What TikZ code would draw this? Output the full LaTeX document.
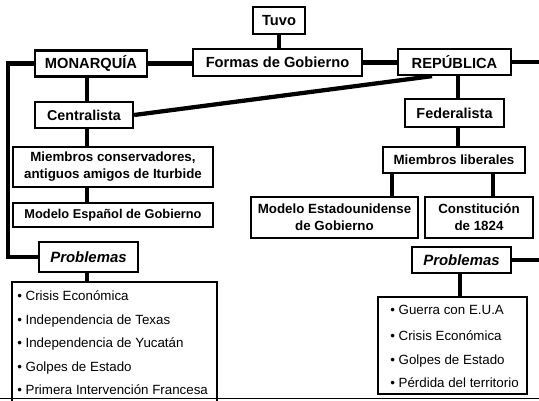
\documentclass[tikz,border=0pt]{standalone}
\usepackage{fontspec}
\setmainfont{Liberation Sans}
\begin{document}
\begin{tikzpicture}[x=0.75pt,y=-0.75pt,
  box/.style={draw, line width=1.7pt, fill=white, inner sep=0pt, align=center},
  big/.style={font=\fontsize{11}{13}\selectfont\bfseries},
  mid/.style={font=\fontsize{10}{12.8}\selectfont\bfseries},
  prob/.style={font=\fontsize{11.2}{13}\selectfont\bfseries\itshape},
  item/.style={anchor=base west, inner sep=0pt, font=\fontsize{10}{12}\selectfont},
  conn/.style={line width=3.2pt, line join=miter}]
\clip (0,0) rectangle (539,400);
% boxes
\node[box,big,minimum width=39pt,minimum height=20.25pt] (tuvo) at (279,20.5) {Tuvo};
\node[box,big,minimum width=126.75pt,minimum height=20.25pt] (formas) at (277.5,62.5) {Formas de Gobierno};
\node[box,big,minimum width=84pt,minimum height=19.5pt] (mon) at (91,63.5) {MONARQUÍA};
\node[box,big,minimum width=84.75pt,minimum height=19.5pt] (rep) at (454.5,62) {REPÚBLICA};
\node[box,big,font=\fontsize{10.7}{13}\selectfont\bfseries,minimum width=73.5pt,minimum height=19.5pt] (cent) at (84,115) {Centralista};
\node[box,mid,minimum width=150pt,minimum height=30pt] (mcons) at (113,167) {Miembros conservadores,\\antiguos amigos de Iturbide};
\node[box,font=\fontsize{9.6}{12}\selectfont\bfseries,minimum width=150pt,minimum height=18pt] (mesp) at (113,215) {Modelo Español de Gobierno};
\node[box,prob,minimum width=74.25pt,minimum height=22.5pt] (probL) at (88.5,257) {Problemas};
\node[box,minimum width=153.75pt,minimum height=103.5pt] (listL) at (114.5,351) {};
\node[box,font=\fontsize{10.8}{13}\selectfont\bfseries,minimum width=74.25pt,minimum height=21pt] (fed) at (454.5,113) {Federalista};
\node[box,mid,minimum width=106.5pt,minimum height=19.5pt] (mlib) at (454,160) {Miembros liberales};
\node[box,mid,minimum width=125.25pt,minimum height=30.75pt] (mest) at (334.5,217.5) {Modelo Estadounidense\\de Gobierno};
\node[box,mid,minimum width=81pt,minimum height=30.75pt] (const) at (479,217.5) {Constitución\\de 1824};
\node[box,prob,minimum width=74.25pt,minimum height=19.5pt] (probR) at (461.5,260) {Problemas};
\node[box,minimum width=111.75pt,minimum height=72.75pt] (listR) at (452.5,345.5) {};
% list items
\node[item] (l1) at (17,300.5) {• Crisis Económica};
\node[item] (l2) at (17,324) {• Independencia de Texas};
\node[item] (l3) at (17,347.5) {• Independencia de Yucatán};
\node[item] (l4) at (17,371) {• Golpes de Estado};
\node[item] (l5) at (17,394.5) {• Primera Intervención Francesa};
\node[item] (r1) at (390,314.5) {• Guerra con E.U.A};
\node[item] (r2) at (390,340.5) {• Crisis Económica};
\node[item] (r3) at (390,364.5) {• Golpes de Estado};
\node[item] (r4) at (390,387.5) {• Pérdida del territorio};
% helper coordinates
\coordinate (lc) at (8,0);
\coordinate (rc) at (548,0);
\coordinate (sl) at (87,0);
\coordinate (sr) at (458,0);
\coordinate (rd) at (432,0);
\coordinate (ma) at (392,0);
\coordinate (mb) at (493,0);
\coordinate (pr) at (460,0);
\coordinate (bl) at (0,398.5);
\coordinate (br) at (539,398.5);
% connectors
\draw[conn] (tuvo.south) -- (tuvo.south |- formas.north);
\draw[conn] (mon.east) -- (mon.east -| formas.west);
\draw[conn] (formas.east) -- (formas.east -| rep.west);
\draw[conn] (mon.west) -- (mon.west -| lc) -- (probL.west -| lc) -- (probL.west);
\draw[conn] (rep.east) -- (rep.east -| rc) -- (probR.east -| rc) -- (probR.east);
\draw[conn] (sl |- mon.south) -- (sl |- cent.north);
\draw[conn] (sl |- cent.south) -- (sl |- mcons.north);
\draw[conn] (sl |- mcons.south) -- (sl |- mesp.north);
\draw[conn] (sl |- probL.south) -- (sl |- listL.north);
\draw[conn] (cent.east) -- (rd |- rep.south);
\draw[conn] (sr |- rep.south) -- (sr |- fed.north);
\draw[conn] (sr |- fed.south) -- (sr |- mlib.north);
\draw[conn] (ma |- mlib.south) -- (ma |- mest.north);
\draw[conn] (mb |- mlib.south) -- (mb |- const.north);
\draw[conn] (pr |- probR.south) -- (pr |- listR.north);
\draw[line width=1pt] (bl) -- (br);
\end{tikzpicture}
\end{document}
